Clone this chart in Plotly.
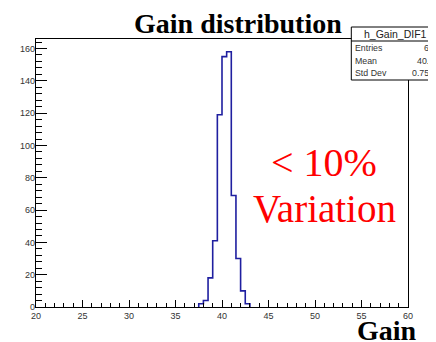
import plotly.graph_objects as go

# ---- data ----
bin_width = 0.5
x_min, x_max = 20.0, 60.0
bin_lows = [37.5, 38.0, 38.5, 39.0, 39.5, 40.0, 40.5, 41.0, 41.5, 42.0, 42.5]
counts = [2, 4, 18, 41, 119, 155, 158, 69, 30, 10, 2]
x_ticks = [20, 25, 30, 35, 40, 45, 50, 55, 60]
y_ticks = [0, 20, 40, 60, 80, 100, 120, 140, 160]
stats_name = "h_Gain_DIF1"
stats_labels = ["Entries", "Mean", "Std Dev"]
stats_values = ["640", "40.38", "0.7596"]

# ---- build histogram outline (only over the filled bins) ----
edges = [lo for lo in bin_lows] + [bin_lows[-1] + bin_width]
xs = [edges[0]] + edges
ys = [0] + counts + [0]
ymax = 1.05 * max(counts)

fig = go.Figure()
fig.add_trace(go.Scatter(
    x=xs, y=ys, mode="lines", line_shape="hv",
    line=dict(color="#1f1fa0", width=1.6), hoverinfo="skip", showlegend=False,
))

# The page body has an 8px margin; work in reference-window pixels and shift.
OFF = 8
W, H = 436 - OFF, 342 - OFF
left_r, right_r, top_r, bot_r = 34, 408, 39, 307
ml = left_r - OFF
mr = W - (right_r - OFF)
mt = top_r - OFF
mb = H - (bot_r - OFF)
pw, ph = W - ml - mr, H - mt - mb

def px(xr):
    return (xr - OFF - ml) / pw

def py(yr):
    return (H - mb - (yr - OFF)) / ph

tickfont = dict(family="Liberation Sans, Arial", size=9, color="#333")
fig.update_layout(
    width=W, height=H, margin=dict(l=ml, r=mr, t=mt, b=mb),
    plot_bgcolor="white", paper_bgcolor="white", showlegend=False,
    xaxis=dict(range=[x_min, x_max], tickvals=x_ticks, ticktext=[str(v) for v in x_ticks],
               ticks="inside", ticklen=7, tickwidth=1, tickcolor="black",
               minor=dict(dtick=1, ticks="inside", ticklen=4, tickcolor="black", tickwidth=1),
               showline=True, linecolor="black", linewidth=1.2, mirror=True,
               showgrid=False, zeroline=False, tickfont=tickfont),
    yaxis=dict(range=[0, ymax], tickvals=y_ticks, ticktext=[str(v) for v in y_ticks],
               ticks="inside", ticklen=11, tickwidth=1, tickcolor="black",
               minor=dict(dtick=4, ticks="inside", ticklen=6, tickcolor="black", tickwidth=1),
               showline=True, linecolor="black", linewidth=1.2, mirror=True,
               showgrid=False, zeroline=False, tickfont=tickfont, ticklabelstandoff=-2),
)

serif = "Liberation Serif, Times New Roman, serif"
ann = []
ann.append(dict(text="Gain distribution", x=px(237.5), y=py(23), xref="paper", yref="paper",
                xanchor="center", yanchor="middle", showarrow=False,
                font=dict(family=serif, size=28, color="black", weight="bold")))
ann.append(dict(text="Gain", x=px(419.5), y=py(330), xref="paper", yref="paper",
                xanchor="right", yanchor="middle", showarrow=False,
                font=dict(family=serif, size=28, color="black", weight="bold")))
ann.append(dict(text="&lt; 10%", x=px(324), y=py(162), xref="paper", yref="paper",
                xanchor="center", yanchor="middle", showarrow=False,
                font=dict(family=serif, size=40, color="#ff0000")))
ann.append(dict(text="Variation", x=px(324), y=py(208), xref="paper", yref="paper",
                xanchor="center", yanchor="middle", showarrow=False,
                font=dict(family=serif, size=39, color="#ff0000")))

# stats box
box_l, box_r, box_t, box_b = 351, 439, 27, 80
sep = 41
shapes = [
    dict(type="rect", xref="paper", yref="paper", x0=px(box_l), x1=px(box_r),
         y0=py(box_b), y1=py(box_t), fillcolor="white", line=dict(color="black", width=1),
         layer="above"),
    dict(type="line", xref="paper", yref="paper", x0=px(box_l), x1=px(box_r),
         y0=py(sep), y1=py(sep), line=dict(color="black", width=1), layer="above"),
]
ann.append(dict(text=stats_name, x=px((box_l + box_r) / 2), y=py(34), xref="paper", yref="paper",
                xanchor="center", yanchor="middle", showarrow=False,
                font=dict(family="Liberation Sans, Arial", size=10.5, color="#222")))
row_y = [48.5, 61, 73]
for lab, val, yy in zip(stats_labels, stats_values, row_y):
    ann.append(dict(text=lab, x=px(353), y=py(yy), xref="paper", yref="paper",
                    xanchor="left", yanchor="middle", showarrow=False,
                    font=dict(family="Liberation Sans, Arial", size=8.8, color="#333")))
    ann.append(dict(text=val, x=px(441), y=py(yy), xref="paper", yref="paper",
                    xanchor="right", yanchor="middle", showarrow=False,
                    font=dict(family="Liberation Sans, Arial", size=8.8, color="#333")))

fig.update_layout(annotations=ann, shapes=shapes)
fig.write_html("out.html")
